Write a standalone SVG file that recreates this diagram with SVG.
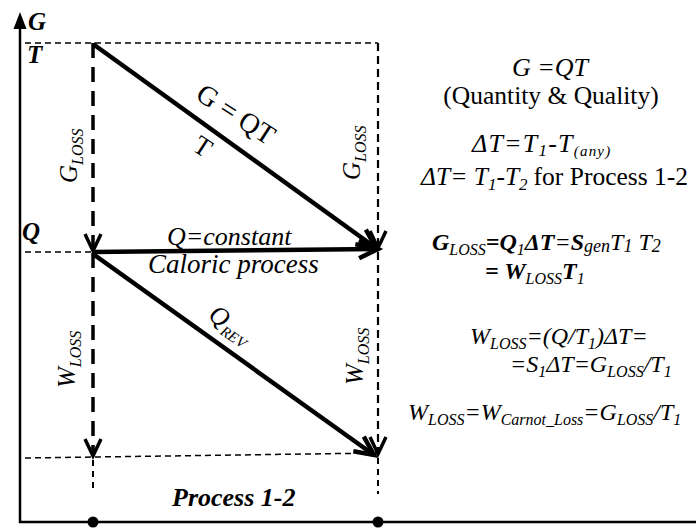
<svg xmlns="http://www.w3.org/2000/svg" width="696" height="531" viewBox="0 0 696 531">
<style>
.t{font-family:"Liberation Serif","Times New Roman",serif;fill:#000}
.i{font-style:italic}
.b{font-weight:bold}
.n{font-style:normal}
.ln{stroke:#000;fill:none}
.thin{stroke-width:1.5;stroke-dasharray:6 4}
.thick{stroke-width:3.5;stroke-dasharray:15 9}
.med{stroke-width:2.2;stroke-dasharray:8 5}
.tail{stroke-width:2;stroke-dasharray:6 5}
.arr{stroke-width:4.5}
</style>
<defs>
<marker id="vh" markerUnits="userSpaceOnUse" viewBox="-20 -12 24 24" refX="0" refY="0" markerWidth="24" markerHeight="24" orient="auto" overflow="visible">
<path d="M-17,-8 L0,0 L-17,8" fill="none" stroke="#000" stroke-width="3.5" stroke-dasharray="none" stroke-linejoin="miter"/>
</marker>
<marker id="vhb" markerUnits="userSpaceOnUse" viewBox="-20 -12 24 24" refX="0" refY="0" markerWidth="24" markerHeight="24" orient="auto" overflow="visible">
<path d="M-19,-9 L0,0 L-19,9" fill="none" stroke="#000" stroke-width="4.5" stroke-dasharray="none" stroke-linejoin="miter"/>
</marker>
</defs>
<rect width="696" height="531" fill="#fff"/>
<g id="axes">
<line class="ln" x1="20" y1="523" x2="20" y2="26" stroke-width="2.5"/>
<polygon points="20,12 13.5,29 26.5,29" fill="#000"/>
<line class="ln" x1="19" y1="522" x2="696" y2="522" stroke-width="2.5"/>
<circle cx="93" cy="522" r="5.5" fill="#000"/>
<circle cx="378" cy="522" r="5.5" fill="#000"/>
</g>
<g id="connectors">
<line class="ln thin" x1="25" y1="43" x2="378" y2="43"/>
<line class="ln thin" x1="25" y1="252" x2="93" y2="252"/>
<line class="ln thin" x1="25" y1="458" x2="378" y2="453"/>
<line class="ln thick" x1="93" y1="43" x2="93" y2="251" marker-end="url(#vh)"/>
<line class="ln thick" x1="93" y1="253" x2="93" y2="456" marker-end="url(#vh)"/>
<line class="ln tail" x1="93" y1="460" x2="93" y2="490"/>
<line class="ln med" x1="378" y1="43" x2="378" y2="248" marker-end="url(#vh)"/>
<line class="ln med" x1="378" y1="252" x2="378" y2="454" marker-end="url(#vh)"/>
<line class="ln tail" x1="378" y1="458" x2="378" y2="494"/>
<line class="ln arr" x1="93" y1="44" x2="376" y2="248" marker-end="url(#vhb)"/>
<line class="ln arr" x1="93" y1="252" x2="378" y2="249" marker-end="url(#vhb)"/>
<line class="ln arr" x1="93" y1="254" x2="374" y2="455" marker-end="url(#vhb)"/>
</g>
<g id="axis-labels">
<text class="t i b" x="28" y="30" font-size="25">G</text>
<text class="t i b" x="27" y="63" font-size="25">T</text>
<text class="t i b" x="22" y="240" font-size="25">Q</text>
</g>
<g id="diagram-labels">
<text class="t" font-size="28" text-anchor="middle" transform="translate(231,122) rotate(33)">G = QT</text>
<text class="t" font-size="27" text-anchor="middle" transform="translate(198,154) rotate(33)">T</text>
<text class="t i" font-size="26" transform="translate(207,318) rotate(34)">Q<tspan dy="6" font-size="15">REV</tspan></text>
<text class="t i" font-size="26" x="167" y="245">Q=constant</text>
<text class="t i" font-size="27" x="148" y="273">Caloric process</text>
<text class="t i" font-size="25" transform="translate(77,183) rotate(-90)">G<tspan dy="6" font-size="16">LOSS</tspan></text>
<text class="t i" font-size="25" transform="translate(360,180) rotate(-90)">G<tspan dy="6" font-size="16">LOSS</tspan></text>
<text class="t i" font-size="25" transform="translate(75,388) rotate(-90)">W<tspan dy="6" font-size="16">LOSS</tspan></text>
<text class="t i" font-size="25" transform="translate(363,385) rotate(-90)">W<tspan dy="6" font-size="16">LOSS</tspan></text>
<text class="t i b" font-size="26" x="172" y="506">Process 1-2</text>
</g>
<g id="equations">
<text class="t i" font-size="26" x="550" y="76" text-anchor="middle">G =QT</text>
<text class="t" font-size="25.5" x="551" y="104" text-anchor="middle">(Quantity &amp; Quality)</text>
<text class="t i" font-size="26" x="472" y="152" letter-spacing="1.2">ΔT=T<tspan dy="4" font-size="17">1</tspan><tspan dy="-4">-T</tspan><tspan dy="4" font-size="15">(any)</tspan></text>
<text class="t i" font-size="25.5" x="421" y="185">ΔT= T<tspan dy="5" font-size="17">1</tspan><tspan dy="-5">-T</tspan><tspan dy="5" font-size="17">2</tspan><tspan dy="-5" dx="6" class="n">for Process 1-2</tspan></text>
<text class="t i" font-size="24" x="432" y="250"><tspan class="b">G</tspan><tspan dy="5" font-size="16">LOSS</tspan><tspan dy="-5" class="b">=Q</tspan><tspan dy="5" font-size="16">1</tspan><tspan dy="-5" class="b">ΔT</tspan>=<tspan class="b">S</tspan><tspan dy="2" font-size="18">gen</tspan><tspan dy="-2">T</tspan><tspan dy="2" font-size="18">1</tspan><tspan dy="-2"> T</tspan><tspan dy="2" font-size="18">2</tspan></text>
<text class="t i b" font-size="24" x="485" y="279">= W<tspan dy="5" font-size="16" font-weight="normal">LOSS</tspan><tspan dy="-5">T</tspan><tspan dy="5" font-size="16" font-weight="normal">1</tspan></text>
<text class="t i" font-size="24" x="470" y="344">W<tspan dy="5" font-size="16">LOSS</tspan><tspan dy="-5">=(Q/T</tspan><tspan dy="5" font-size="16">1</tspan><tspan dy="-5">)ΔT=</tspan></text>
<text class="t i" font-size="24" x="510" y="372">=S<tspan dy="5" font-size="16">1</tspan><tspan dy="-5">ΔT=G</tspan><tspan dy="5" font-size="16">LOSS</tspan><tspan dy="-5">/T</tspan><tspan dy="5" font-size="16">1</tspan></text>
<text class="t i" font-size="24" x="408" y="420">W<tspan dy="5" font-size="16">LOSS</tspan><tspan dy="-5">=W</tspan><tspan dy="5" font-size="16">Carnot_Loss</tspan><tspan dy="-5">=G</tspan><tspan dy="5" font-size="16">LOSS</tspan><tspan dy="-5">/T</tspan><tspan dy="5" font-size="16">1</tspan></text>
</g>
</svg>
